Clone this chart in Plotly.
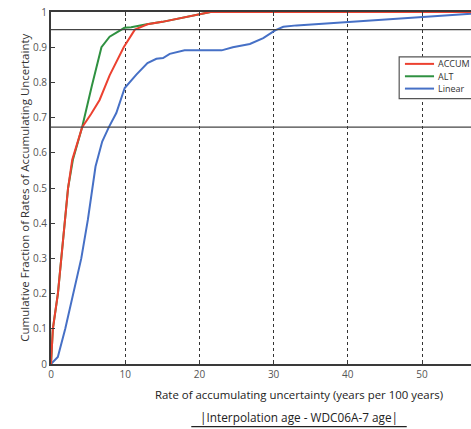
import plotly.graph_objects as go

# ---- data ----
series_names = ["ACCUM", "ALT", "Linear"]
series_colors = ["#ec4130", "#2f9141", "#4670c6"]

accum_x = [0, 0.25, 0.93, 1.38, 1.92, 2.3, 2.86, 4.2, 5.4, 6.55, 7.9, 9.8, 11.3, 13.0, 15.0, 17.0, 19.0, 20.0, 21.5, 56.6]
accum_y = [0, 0.1, 0.2, 0.3, 0.4, 0.5, 0.58, 0.673, 0.71, 0.75, 0.82, 0.9, 0.95, 0.965, 0.972, 0.98, 0.99, 0.994, 1.0, 1.0]

alt_x = [0, 0.25, 0.93, 1.38, 1.92, 2.3, 2.95, 4.2, 5.5, 6.8, 7.9, 9.0, 9.9, 10.8, 12.0, 12.9, 15.0, 17.0, 19.0, 20.0, 21.5, 56.6]
alt_y = [0, 0.1, 0.2, 0.3, 0.4, 0.5, 0.58, 0.673, 0.79, 0.9, 0.93, 0.945, 0.955, 0.957, 0.962, 0.965, 0.972, 0.98, 0.99, 0.994, 1.0, 1.0]

linear_x = [0, 0.92, 1.92, 3.04, 4.08, 4.97, 6.0, 6.9, 7.8, 8.8, 9.93, 11.5, 13.0, 14.2, 15.1, 16.0, 18.0, 23.0, 24.5, 26.8, 28.6, 30.2, 31.3, 33.1, 40.1, 44.8, 50.0, 56.6]
linear_y = [0, 0.02, 0.1, 0.2, 0.3, 0.41, 0.561, 0.632, 0.673, 0.713, 0.784, 0.822, 0.855, 0.867, 0.869, 0.881, 0.891, 0.891, 0.9, 0.909, 0.926, 0.948, 0.958, 0.962, 0.972, 0.979, 0.985, 0.995]

ref_levels = [0.95, 0.673]
x_ticks = [0, 10, 20, 30, 40, 50]
y_ticks = [0, 0.1, 0.2, 0.3, 0.4, 0.5, 0.6, 0.7, 0.8, 0.9, 1]
y_ticklabels = ["0", "0.1", "0.2", "0.3", "0.4", "0.5", "0.6", "0.7", "0.8", "0.9", "1"]

x_title = "Rate of accumulating uncertainty (years per 100 years)"
x_subtitle = "|Interpolation age - WDC06A-7 age|"
y_title = "Cumulative Fraction of Rates of Accumulating Uncertainty"

FONT = "Open Sans"
AX = "#3a3a3a"

fig = go.Figure()
data = {"ACCUM": (accum_x, accum_y), "ALT": (alt_x, alt_y), "Linear": (linear_x, linear_y)}
# draw order: Linear, ALT, ACCUM (red on top)
for name in ["Linear", "ALT", "ACCUM"]:
    i = series_names.index(name)
    xs, ys = data[name]
    fig.add_trace(go.Scatter(x=xs, y=ys, mode="lines", name=name,
                             line=dict(color=series_colors[i], width=2),
                             showlegend=False))

shapes = []
for lv in ref_levels:
    shapes.append(dict(type="line", xref="paper", x0=0, x1=1, yref="y", y0=lv, y1=lv,
                       line=dict(color="#444444", width=1.3), layer="above"))

# underline of subtitle
shapes.append(dict(type="line", xref="paper", yref="paper", x0=0.334, x1=0.847, y0=-0.178, y1=-0.178,
                   line=dict(color="#222222", width=1.2)))

# custom legend box
lx0, lx1, ly0, ly1 = 0.829, 1.06, 0.754, 0.8726
shapes.append(dict(type="rect", xref="paper", yref="paper", x0=lx0, x1=lx1, y0=ly0, y1=ly1,
                   fillcolor="white", line=dict(color="#555555", width=1.2), layer="above"))
row_y = [0.8526, 0.8174, 0.7824]
annotations = []
for i, nm in enumerate(series_names):
    shapes.append(dict(type="line", xref="paper", yref="paper", x0=0.8427, x1=0.912,
                       y0=row_y[i], y1=row_y[i], line=dict(color=series_colors[i], width=2), layer="above"))
    annotations.append(dict(xref="paper", yref="paper", x=0.919, y=row_y[i], text=nm, showarrow=False,
                            xanchor="left", yanchor="middle", borderpad=0,
                            font=dict(family=FONT, size=9, color="#333333")))

annotations.append(dict(xref="paper", yref="paper", x=0.59, y=-0.0853, text=x_title, showarrow=False,
                        xanchor="center", yanchor="middle", font=dict(family=FONT, size=11.4, color="#222222")))
annotations.append(dict(xref="paper", yref="paper", x=0.59, y=-0.150, text=x_subtitle, showarrow=False,
                        xanchor="center", yanchor="middle", font=dict(family=FONT, size=11.8, color="#222222")))
annotations.append(dict(xref="paper", yref="paper", x=-0.0632, y=0.502, text=y_title, showarrow=False,
                        textangle=-90, xanchor="center", yanchor="middle",
                        font=dict(family=FONT, size=11.5, color="#333333")))

fig.update_layout(
    width=471, height=429,
    margin=dict(l=51, r=0, t=12, b=65),
    paper_bgcolor="white", plot_bgcolor="white",
    font=dict(family=FONT, size=10, color="#555555"),
    shapes=shapes, annotations=annotations,
    showlegend=False,
)
fig.update_xaxes(range=[0, 56.6], tickvals=x_ticks, ticks="inside", ticklen=4, tickcolor=AX,
                 showline=True, linecolor=AX, linewidth=2, mirror="ticks",
                 showgrid=True, gridcolor="#333333", griddash="dot", gridwidth=1,
                 zeroline=False, tickfont=dict(family=FONT, size=10, color="#555555"))
fig.update_yaxes(range=[0, 1], tickvals=y_ticks, ticktext=y_ticklabels, ticks="inside", ticklen=4,
                 tickcolor=AX, showline=True, linecolor=AX, linewidth=2, mirror=False,
                 showgrid=False, zeroline=False, tickfont=dict(family=FONT, size=10, color="#555555"))

fig.write_html("out.html")
